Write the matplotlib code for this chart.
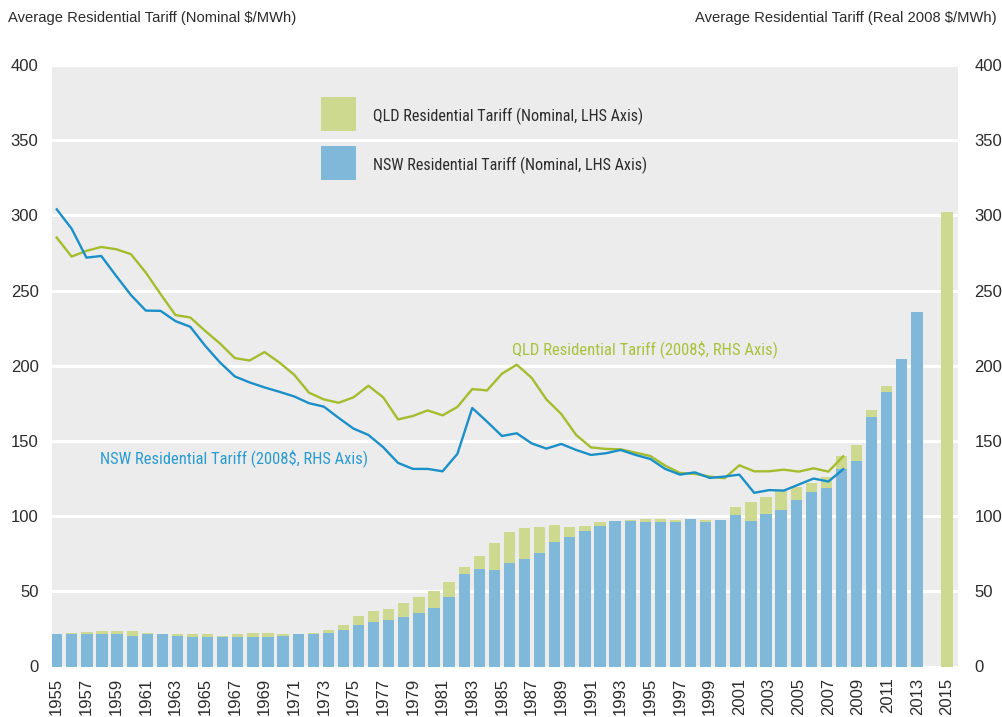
import numpy as np
import matplotlib
matplotlib.use("Agg")
import matplotlib.pyplot as plt
import matplotlib.patches as mpatches
from matplotlib import font_manager
from matplotlib.font_manager import FontProperties

# ---------------- data ----------------
# Bars: 60 category slots (59 bars + one empty slot before the final forecast bar)
nsw_nominal = [21.9, 21.3, 21.9, 21.3, 21.3, 20.6, 21.3, 21.3, 20.6, 19.9,
               19.9, 19.9, 19.9, 19.9, 19.9, 20.6, 21.3, 21.9, 22.6, 24.6,
               27.9, 29.9, 31.2, 33.2, 35.9, 39.2, 46.5, 61.8, 65.1, 64.4,
               69.1, 71.8, 75.8, 83.1, 86.4, 90.4, 93.7, 97.0, 97.0, 96.3,
               96.3, 96.3, 98.3, 96.3, 97.7, 101.0, 97.0, 101.7, 104.3, 111.0,
               116.3, 118.9, 131.6, 136.9, 166.1, 182.7, 204.7, 236.0, None, None]
qld_nominal = [21.5, 22.1, 22.8, 23.3, 23.3, 23.3, 22.6, 21.0, 21.3, 21.3,
               21.3, 20.6, 21.3, 22.6, 22.6, 21.9, 21.9, 22.6, 24.6, 27.9,
               33.9, 37.2, 38.5, 41.9, 46.5, 50.5, 56.5, 66.4, 73.8, 82.4,
               89.7, 92.4, 93.0, 94.4, 93.0, 93.7, 96.3, 96.5, 97.7, 98.3,
               98.3, 97.7, 97.5, 97.7, 97.0, 106.3, 109.6, 112.9, 116.9, 119.6,
               122.3, 126.2, 140.2, 147.5, 170.8, 186.7, None, None, None, 302.3]

line_years = list(range(1955, 2009))
nsw_real = [304.0, 291.2, 271.9, 273.0, 259.8, 247.0, 236.7, 236.5, 229.7, 225.9,
            213.3, 202.2, 192.9, 188.9, 185.6, 182.7, 179.6, 175.1, 172.8, 165.3,
            158.2, 154.0, 145.8, 135.4, 131.4, 131.4, 129.8, 141.4, 171.9, 162.8,
            153.3, 155.1, 148.4, 144.9, 148.0, 144.0, 140.7, 141.8, 144.0, 140.7,
            138.0, 131.4, 127.6, 129.1, 125.4, 126.3, 127.6, 115.5, 117.3, 117.0,
            121.0, 125.0, 123.0, 131.2]
qld_real = [285.2, 272.6, 276.4, 279.0, 277.5, 274.2, 262.0, 247.6, 233.7, 232.1,
            223.2, 214.8, 205.1, 203.5, 209.1, 202.2, 194.0, 182.1, 177.6, 175.4,
            179.0, 186.7, 179.0, 164.3, 166.6, 170.3, 167.0, 172.6, 184.5, 183.6,
            194.7, 200.7, 192.0, 177.6, 167.9, 154.0, 145.7, 144.7, 144.4, 142.2,
            140.0, 133.6, 128.7, 128.1, 126.3, 125.2, 133.8, 129.8, 129.8, 130.9,
            129.6, 131.8, 129.6, 139.8]

first_year, last_year = 1955, 2015
tick_years = list(range(1955, 2016, 2))
y_ticks = [0, 50, 100, 150, 200, 250, 300, 350, 400]

left_title = "Average Residential Tariff (Nominal $/MWh)"
right_title = "Average Residential Tariff (Real 2008 $/MWh)"
qld_bar_label = "QLD Residential Tariff (Nominal, LHS Axis)"
nsw_bar_label = "NSW Residential Tariff (Nominal, LHS Axis)"
qld_line_label = "QLD Residential Tariff (2008$, RHS Axis)"
nsw_line_label = "NSW Residential Tariff (2008$, RHS Axis)"

# ---------------- fonts ----------------
REG = FontProperties(family="Liberation Sans")


def find_condensed():
    prefs = ["Roboto Condensed", "Liberation Sans Narrow", "Noto Sans", "Open Sans",
             "Open Sans Condensed", "DejaVu Sans", "Noto Sans Display"]
    found = {}
    for f in font_manager.fontManager.ttflist:
        nm = f.name
        cond = ("condensed" in str(f.stretch).lower() or "Condensed" in nm
                or "Narrow" in nm or "Condensed" in f.fname or "Narrow" in f.fname)
        if not cond or f.style != "normal":
            continue
        if "Extra" in f.fname or "Semi" in f.fname or "Ultra" in f.fname:
            continue
        w = f.weight
        if isinstance(w, str):
            w = {"normal": 400, "regular": 400, "book": 400, "light": 300}.get(w, 700)
        if w not in (400,):
            continue
        found.setdefault(nm, f.fname)
    for p in prefs:
        if p in found:
            return FontProperties(fname=found[p])
    if found:
        return FontProperties(fname=sorted(found.values())[0])
    return None


COND = find_condensed()
NARROW = COND if COND is not None else REG

BG = "#ececec"
QLD_BAR = "#cdd98f"
NSW_BAR = "#80b8da"
QLD_LINE = "#a3bd2c"
NSW_LINE = "#1a8fc8"
TXT = "#2b2b2b"

W, H = 1002, 717
fig = plt.figure(figsize=(W / 100, H / 100), dpi=100)
fig.patch.set_facecolor("white")
renderer = fig.canvas.get_renderer()


def fit_size(text, fp, target_px, start=11.0):
    t = fig.text(0, 0, text, fontproperties=fp, fontsize=start)
    w = t.get_window_extent(renderer=renderer).width
    t.remove()
    return start * target_px / w


def px(x, y):
    return x / W, 1 - y / H


ax = fig.add_axes([51.7 / W, 1 - 666.5 / H, (958.3 - 51.7) / W, (666.5 - 65) / H])
ax.set_facecolor(BG)
for s in ax.spines.values():
    s.set_visible(False)

ax.set_xlim(1954.66, 2015.755)
ax.set_ylim(0, 400)
ax.set_yticks(y_ticks)
ax.yaxis.grid(True, color="white", linewidth=2.2)
ax.set_axisbelow(True)
ax.tick_params(axis="y", length=0, pad=9.5, labelsize=12, labelcolor=TXT)
for t in ax.get_yticklabels():
    t.set_fontproperties(REG)
    t.set_fontsize(12)

# bars: 60 evenly spaced category slots spanning the year range
n = len(nsw_nominal)
bar_pos = first_year + np.arange(n) * (last_year - first_year) / (n - 1)
qv = np.array([np.nan if v is None else v for v in qld_nominal], dtype=float)
nv = np.array([np.nan if v is None else v for v in nsw_nominal], dtype=float)
bw = 0.76
ax.bar(bar_pos, qv, width=bw, color=QLD_BAR, zorder=2, linewidth=0)
ax.bar(bar_pos, nv, width=bw, color=NSW_BAR, zorder=3, linewidth=0)

ax.set_xticks(tick_years)
ax.set_xticklabels([str(y) for y in tick_years], rotation=90, color=TXT)
for t in ax.get_xticklabels():
    t.set_fontproperties(REG)
    t.set_fontsize(12)
ax.tick_params(axis="x", length=0, pad=8)

# lines on the right-hand axis
ax2 = ax.twinx()
ax2.set_ylim(0, 400)
ax2.set_yticks(y_ticks)
for s in ax2.spines.values():
    s.set_visible(False)
ax2.tick_params(axis="y", length=0, pad=11.5, labelsize=12, labelcolor=TXT)
for t in ax2.get_yticklabels():
    t.set_fontproperties(REG)
    t.set_fontsize(12)
ax2.plot(line_years, qld_real, color=QLD_LINE, linewidth=1.7, zorder=4)
ax2.plot(line_years, nsw_real, color=NSW_LINE, linewidth=1.7, zorder=5)

# inline line labels
fs_q = fit_size(qld_line_label, NARROW, 265)
fs_n = fit_size(nsw_line_label, NARROW, 268)
fig.text(*px(511.7, 354.3), qld_line_label, color="#a8c23c", fontproperties=NARROW,
         fontsize=fs_q, va="baseline", ha="left")
fig.text(*px(100, 462.7), nsw_line_label, color="#2a9bd2", fontproperties=NARROW,
         fontsize=fs_n, va="baseline", ha="left")

# legend (drawn as swatches + labels)
fs_leg = fit_size(qld_bar_label, NARROW, 270)
for (top, base, col, lab) in [(97, 121, QLD_BAR, qld_bar_label),
                              (146, 170, NSW_BAR, nsw_bar_label)]:
    x0, y0 = px(321, top + 34)
    fig.add_artist(mpatches.Rectangle((x0, y0), 35 / W, 34 / H, transform=fig.transFigure,
                                      facecolor=col, edgecolor="none", label=lab))
    fig.text(*px(373, base), lab, color=TXT, fontproperties=NARROW, fontsize=fs_leg,
             va="baseline", ha="left")

fs_t = fit_size(left_title, REG, 286)
fig.text(*px(8, 22), left_title, ha="left", va="baseline", fontproperties=REG,
         fontsize=fs_t, color=TXT)
fs_t2 = fit_size(right_title, REG, 300)
fig.text(*px(997, 22), right_title, ha="right", va="baseline", fontproperties=REG,
         fontsize=fs_t2, color=TXT)

fig.savefig("out.png", dpi=100, facecolor="white")
